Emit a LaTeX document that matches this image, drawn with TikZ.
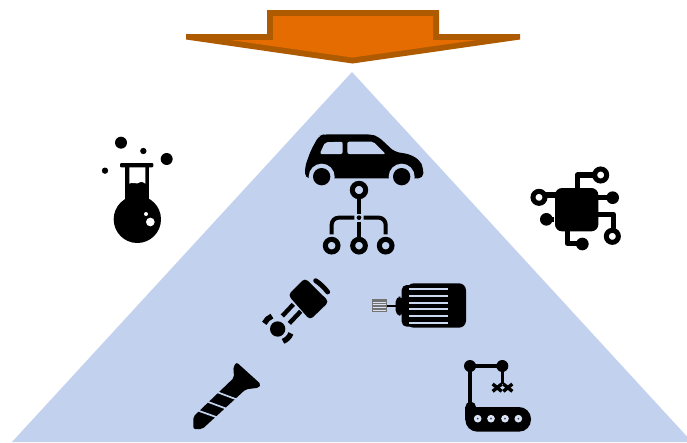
\documentclass[tikz,border=0pt]{standalone}
\definecolor{tribl}{HTML}{C1D1EE}
\definecolor{arrowor}{HTML}{E46C00}
\definecolor{arrowdk}{HTML}{AE5A00}
\tikzset{x=1pt,y=-1pt,
  zoomed/.style={shift={(#1)},scale=1/3},
  ring/.style={draw=black,line width=5pt,fill=none},
  wire/.style={draw=black,line width=4pt,line join=round},
  chipwire/.style={draw=black,line width=5.4pt,line join=round},
  cut/.style={fill=tribl,draw=none}}
\begin{document}
\begin{tikzpicture}
\useasboundingbox (0,0) rectangle (687,442);
% pyramid
\begin{scope}
\clip (0,0) rectangle (687,442);
\fill[tribl] (352,72) -- (692,442) -- (12,442) -- cycle;
\end{scope}
% arrow
\fill[arrowdk] (267,10) -- (439,10) -- (439,34) -- (520,34) -- (520,39.5) -- (352.5,63.5) -- (186,39.5) -- (186,34) -- (267,34) -- cycle;
\fill[arrowor] (273,16) -- (433,16) -- (433,40) -- (477,40) -- (352.5,57.5) -- (230,40) -- (273,40) -- cycle;
% flask
\begin{scope}[zoomed={90,125}]
\fill (93,53) circle (18);
\fill (160,78) circle (9.5);
\fill (230,102) circle (18);
\fill (45,137) circle (9.5);
\fill[rounded corners=1pt] (90,114) rectangle (190,127);
\fill (106,125) rectangle (178,240);
\fill (142,283) circle (71);
\fill[white] (118,127) -- (166,127) -- (166,176) .. controls (155,168) and (150,170) .. (142,175) .. controls (135,178) and (128,170) .. (118,176) -- cycle;
\fill[white] (181,291) circle (13);
\fill[white] (168,267) circle (6);
\end{scope}
% car
\begin{scope}[zoomed={295,125}]
\fill[rounded corners=5pt] (30,160) -- (30,125) -- (48,75) -- (72,32) -- (88,28) -- (228,28) -- (250,35) -- (298,80) -- (345,88) -- (375,106) -- (385,130) -- (385,160) -- cycle;
\fill[cut] (80,155) circle (39);
\fill[cut] (320,155) circle (39);
\fill[cut] (20,161) rectangle (395,182);
\fill (80,155) circle (26);
\fill (320,155) circle (26);
\fill[cut,rounded corners=2pt] (74,87) -- (90,52) -- (143,50) -- (143,87) -- cycle;
\fill[cut,rounded corners=2pt] (157,50) -- (235,50) -- (272,87) -- (157,87) -- cycle;
\end{scope}
% tree
\begin{scope}[zoomed={295,125}]
\draw[ring] (192,195) circle (20);
\draw[ring] (110,362) circle (19);
\draw[ring] (192,362) circle (19);
\draw[ring] (272,362) circle (19);
\draw[wire] (192,215) -- (192,267);
\draw[wire] (192,290) -- (192,342);
\fill (192,278) circle (7);
\draw[wire,rounded corners=7pt] (178,278) -- (110,278) -- (110,328);
\draw[wire,rounded corners=7pt] (206,278) -- (272,278) -- (272,328);
\end{scope}
% chip
\begin{scope}[zoomed={525,160}]
\fill[rounded corners=7pt] (90,84) rectangle (220,214);
\draw[ring] (227,45) circle (18);
\draw[ring] (42,112) circle (18);
\draw[ring] (262,229) circle (18);
\draw[chipwire] (209,45) -- (157,45) -- (157,90);
\draw[chipwire] (60,105) -- (95,105);
\draw[chipwire] (215,113) -- (263,113);
\draw[chipwire] (88,178) -- (64,178);
\draw[chipwire] (215,163) -- (265,163) -- (265,211);
\draw[chipwire] (127,210) -- (127,250) -- (172,250);
\fill (263,113) circle (19);
\fill (64,178) circle (19);
\fill (172,252) circle (19);
\end{scope}
% piston
\begin{scope}[zoomed={255,270}]
\fill[rounded corners=4pt] (150,24) -- (222,95) -- (165,150) -- (99,75) -- cycle;
\draw[line width=4.8pt,line cap=round] (182,32) .. controls (197,42) and (208,53) .. (218,66);
\draw[line width=4.4pt] (115,103) -- (82,138);
\draw[line width=4.4pt] (137,124) -- (103,160);
\fill (68,177) circle (23);
\draw[line width=5.4pt] (28,160) arc[start angle=-155,end angle=-112,radius=43];
\draw[line width=5.4pt] (84,214) arc[start angle=68,end angle=22,radius=43];
\end{scope}
% motor
\begin{scope}[zoomed={365,275}]
\fill[rounded corners=5pt] (110,30) rectangle (200,155);
\fill[rounded corners=7pt] (125,25) rectangle (303,158);
\fill[rounded corners=5pt] (92,65) rectangle (115,122);
\draw[line width=1.8pt] (65,93) -- (95,93);
\fill[black!55] (20,73) rectangle (65,112);
\foreach \y in {81,89,97,105} \draw[tribl!60!white,line width=1pt] (23,\y) -- (62,\y);
\foreach \y in {41,62,83,103,124,145} \draw[tribl!85!white,line width=1.7pt] (132,\y) -- (250,\y);
\end{scope}
% screw
\begin{scope}[zoomed={185,355}]
\fill[rounded corners=2pt] (155,22) -- (145,35) -- (147,68) -- (25,185) -- (25,222) -- (52,222) -- (182,103) -- (222,98) -- (228,88) -- cycle;
\draw[tribl,line width=1.7pt] (40,167) -- (110,192);
\draw[tribl,line width=1.7pt] (70,141) -- (140,167);
\draw[tribl,line width=1.7pt] (98,112) -- (165,137);
\end{scope}
% robot
\begin{scope}[zoomed={455,352}]
\fill (45,42) circle (18);
\fill (142,42) circle (18);
\draw[line width=3.2pt] (45,42) -- (142,42);
\draw[line width=4pt] (45,42) -- (45,160);
\draw[line width=3.2pt] (142,42) -- (142,95);
\fill (47,165) circle (16);
\fill (31,165) rectangle (80,205);
\fill[rounded corners=12pt] (31,165) rectangle (228,239);
\foreach \x in {68,108,150,190} {\fill[tribl!60!white] (\x,200) circle (11.5);\fill[tribl!35!black] (\x,200) circle (3);}
\draw[line width=3.4pt] (113,96) -- (140,118);
\draw[line width=3.4pt] (172,96) -- (145,118);
\draw[line width=3.4pt] (113,118) -- (140,96);
\draw[line width=3.4pt] (172,118) -- (145,96);
\end{scope}
\end{tikzpicture}
\end{document}
